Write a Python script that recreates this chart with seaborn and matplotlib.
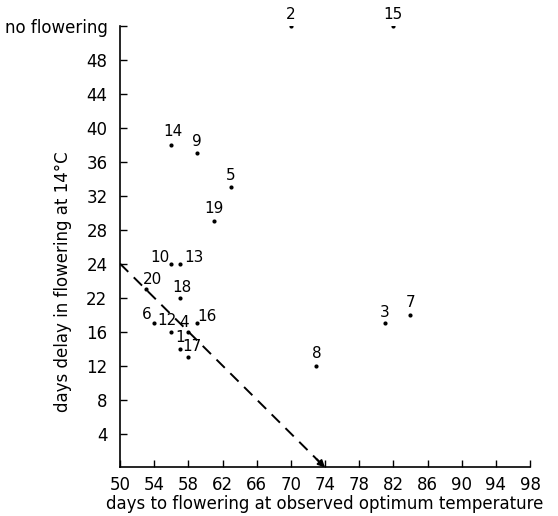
import numpy as np
import pandas as pd
import matplotlib
matplotlib.use("Agg")
import matplotlib.pyplot as plt
import seaborn as sns

# values
labels = ["1", "2", "3", "4", "5", "6", "7", "8", "9", "10",
          "11", "12", "13", "14", "15", "16", "17", "18", "19", "20"]
opt_days = [57, 70, 81, 58, 63, 54, 84, 73, 59, 56,
            None, 56, 57, 56, 82, 59, 58, 57, 61, 53]
delay_14 = [14, 52, 17, 16, 33, 17, 18, 12, 37, 24,
            None, 16, 24, 38, 52, 17, 13, 20, 29, 21]

# label offsets in pixels (dx, dy)
offsets = {"1": (0, 11), "2": (0, 11), "3": (0, 11), "4": (-4, 9), "5": (0, 12),
           "6": (-7, 9), "7": (0, 12), "8": (0, 12), "9": (0, 12), "10": (-11, 6),
           "12": (-4, 11), "13": (14, 6), "14": (2, 13), "15": (0, 11), "16": (10, 7),
           "17": (4, 11), "18": (2, 10), "19": (0, 13), "20": (7, 10)}

line_x = [50, 74]
line_y = [24, 0]

yticks = [4, 8, 12, 16, 20, 24, 28, 32, 36, 40, 44, 48, 52]
ytick_labels = ["4", "8", "12", "16", "22", "24", "28", "32", "36", "40", "44", "48", "no flowering"]
xticks = list(range(50, 99, 4))

df = pd.DataFrame({"label": labels, "x": opt_days, "y": delay_14}).dropna()

sns.set_style("white")
plt.rcParams["font.family"] = ["DejaVu Sans"]
plt.rcParams["text.color"] = "black"
plt.rcParams["axes.labelcolor"] = "black"

fig = plt.figure(figsize=(5.58, 5.16), dpi=100)
ax = fig.add_axes([0.215, 0.094, 0.735, 0.856])

sns.scatterplot(data=df, x="x", y="y", ax=ax, color="black", s=9,
                edgecolor="black", linewidth=0, legend=False, zorder=3)

for _, r in df.iterrows():
    dx, dy = offsets.get(r["label"], (0, 11))
    ax.annotate(r["label"], (r["x"], r["y"]), xytext=(dx * 0.72, dy * 0.72),
                textcoords="offset points", ha="center", va="center",
                fontsize=11, color="black")

ax.plot(line_x, line_y, color="black", linestyle=(0, (6, 4)), linewidth=1.4)
ax.annotate("", xy=(line_x[1], line_y[1]), xytext=(73.0, 1.0),
            arrowprops=dict(arrowstyle="-|>", color="black", lw=1.4,
                            mutation_scale=10, shrinkA=0, shrinkB=0))

ax.set_xlim(50, 98)
ax.set_ylim(0, 52)
ax.set_xticks(xticks)
ax.set_yticks(yticks)
ax.set_yticklabels(ytick_labels)
ax.tick_params(direction="in", length=5, width=1, labelsize=12, color="black",
               labelcolor="black", bottom=True, left=True)
ax.tick_params(axis="x", pad=6)
ax.tick_params(axis="y", pad=9)
for side in ["top", "right"]:
    ax.spines[side].set_visible(False)
for side in ["left", "bottom"]:
    ax.spines[side].set_color("black")
    ax.spines[side].set_linewidth(1.2)

ax.set_xlabel("days to flowering at observed optimum temperature", fontsize=12, labelpad=1)
ax.set_ylabel("days delay in flowering at 14\u00b0C", fontsize=12)
ax.yaxis.set_label_coords(-0.117, 0.42)

fig.savefig("out.png", dpi=100)
